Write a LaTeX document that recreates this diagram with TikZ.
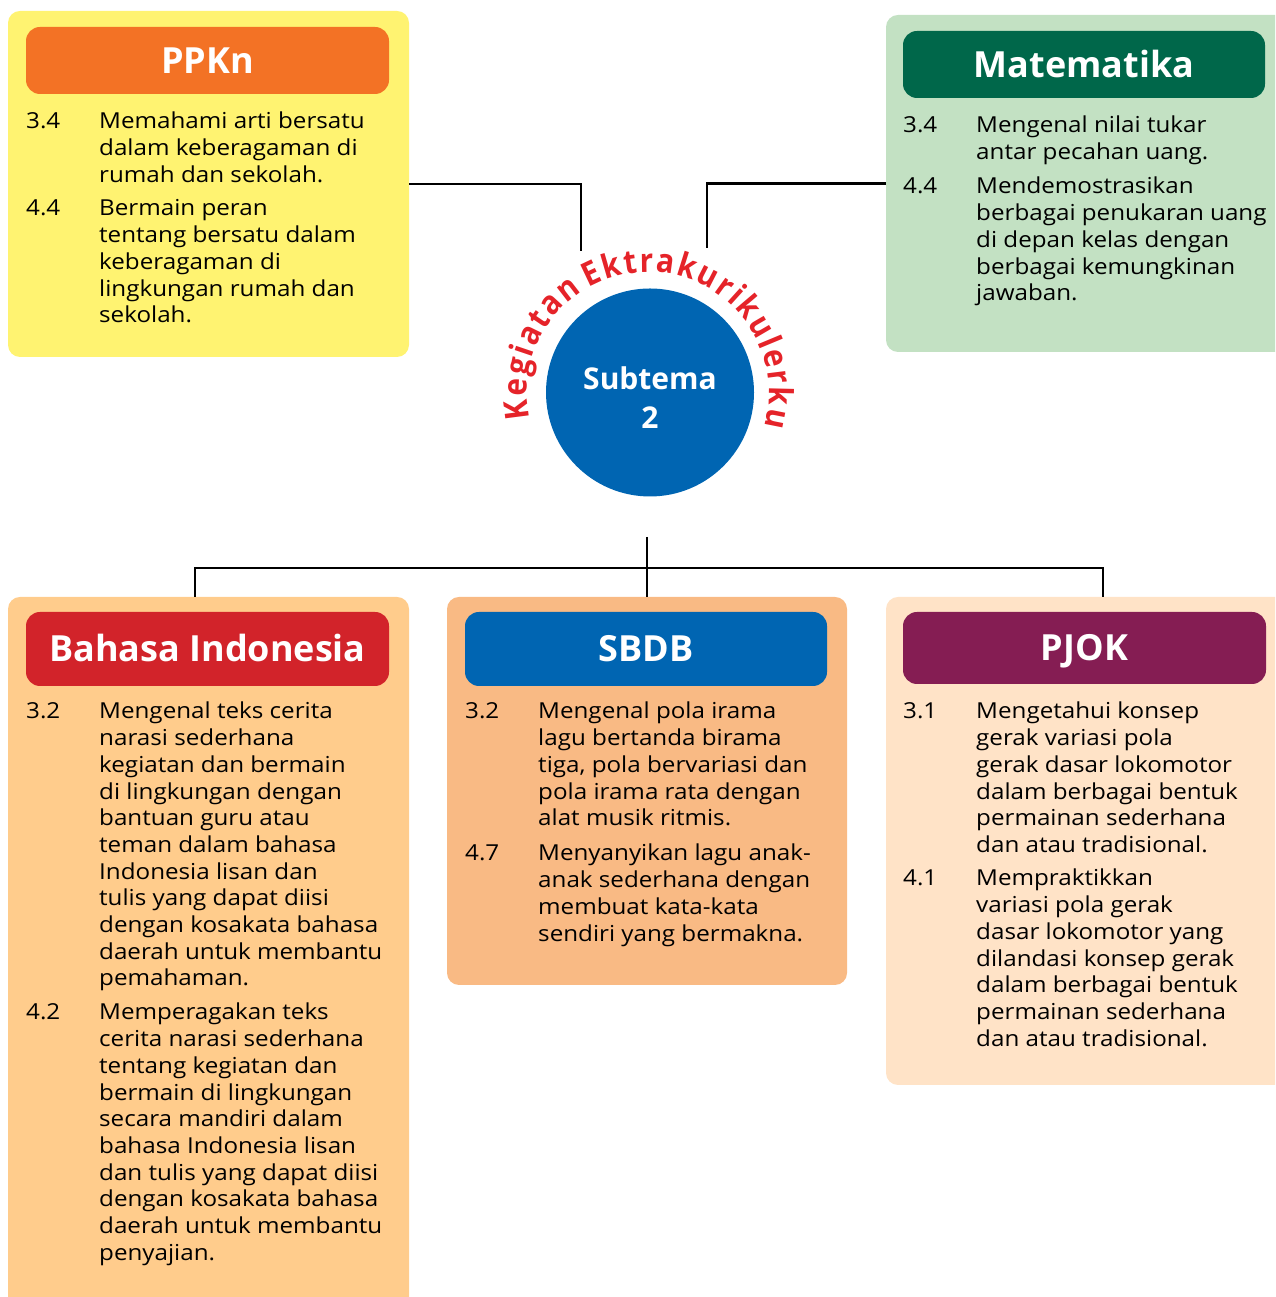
\documentclass[tikz,border=0pt]{standalone}
\usepackage{fontspec}
\setmainfont{Open Sans}
\newfontfamily\bodyfam[FakeStretch=1.1]{Open Sans}
\newfontfamily\arcfam[FakeStretch=0.9]{Open Sans}
\usetikzlibrary{decorations.text}
\definecolor{ppknbg}{HTML}{FFF371}
\definecolor{ppknhd}{HTML}{F37225}
\definecolor{matbg}{HTML}{C3E1C3}
\definecolor{mathd}{HTML}{00674A}
\definecolor{bibg}{HTML}{FFCC8C}
\definecolor{bihd}{HTML}{D2232A}
\definecolor{sbbg}{HTML}{F9BA84}
\definecolor{sbhd}{HTML}{0065B2}
\definecolor{pjbg}{HTML}{FFE3C7}
\definecolor{pjhd}{HTML}{851D53}
\definecolor{hubblue}{HTML}{0065B2}
\definecolor{arcred}{HTML}{E52329}
\newcommand\bodyfont{\bodyfam\fontsize{22}{26.7}\selectfont}
\newcommand\arcfont{\arcfam\fontsize{33}{33}\selectfont\bfseries}
\newcommand\itemlines[1]{\parbox[t]{330pt}{\raggedright #1}}
\tikzset{
  panel/.style={anchor=north west, rounded corners=12pt, inner sep=0pt, outer sep=0pt},
  header/.style={anchor=north west, rounded corners=14pt, inner sep=0pt, outer sep=0pt,
    text=white, font=\fontsize{36}{36}\selectfont\bfseries, text height=26pt, text depth=0pt},
  num/.style={anchor=base west, inner sep=0pt, font=\bodyfont},
  itembox/.style={anchor=base west, inner sep=0pt, font=\bodyfont},
  conn/.style={line width=2.8pt, black},
  hubtext/.style={anchor=base, inner sep=0pt, text=white, font=\fontsize{30}{30}\selectfont\bfseries},
}
\begin{document}
\begin{tikzpicture}[x=1pt, y=1pt]
\useasboundingbox (0,0) rectangle (1275,1297);
\clip (0,0) rectangle (1275,1297);

% panels
\node[panel, fill=ppknbg, minimum width=401, minimum height=346] (ppkn) at (8,1286) {};
\node[panel, fill=matbg, minimum width=420, minimum height=337] (mat) at (886,1282) {};
\node[panel, fill=bibg, minimum width=401, minimum height=740] (bi) at (8,700) {};
\node[panel, fill=sbbg, minimum width=400, minimum height=388] (sb) at (447,700) {};
\node[panel, fill=pjbg, minimum width=420, minimum height=488] (pj) at (886,700) {};

% headers
\node[header, fill=ppknhd, minimum width=363, minimum height=67] (ppknH) at (26,1270) {PPKn};
\node[header, fill=mathd, minimum width=362, minimum height=67] (matH) at (903,1266) {Matematika};
\node[header, fill=bihd, minimum width=363, minimum height=74] (biH) at (26,685) {Bahasa Indonesia};
\node[header, fill=sbhd, minimum width=362, minimum height=74] (sbH) at (465,685) {SBDB};
\node[header, fill=pjhd, minimum width=363, minimum height=72] (pjH) at (903,685) {PJOK};

% connectors
\coordinate (ppknEnd) at (581,1046);
\coordinate (matEnd) at (707,1049);
\draw[conn] (ppkn.east) -| (ppknEnd);
\draw[conn] (mat.west) -| (matEnd);
\coordinate (hubTop) at (647,760);
\coordinate (hub) at (647,729);
\coordinate (dropL) at (195,700);
\coordinate (dropR) at (1103,700);
\draw[conn] (hubTop) -- (sb.north);
\draw[conn] (dropL) |- (hub) -| (dropR);

% hub circle
\node[circle, fill=hubblue, minimum size=208, inner sep=0pt] (sub) at (650,904.5) {};
\node[hubtext] (subA) at (650,907) {Subtema};
\node[hubtext] (subB) at (650,868) {2};
\path[decorate, decoration={text along path,
  text={|\arcfont|K{\kern2pt}e{\kern2pt}g{\kern2pt}i{\kern2pt}a{\kern2pt}t{\kern2pt}a{\kern2pt}n E{\kern2pt}k{\kern2pt}t{\kern2pt}r{\kern2pt}a{\kern2pt}k{\kern2pt}u{\kern2pt}r{\kern2pt}i{\kern2pt}k{\kern2pt}u{\kern2pt}l{\kern2pt}e{\kern2pt}r{\kern2pt}k{\kern2pt}u},
  text align=center, text color=arcred}]
  (648,904) ++(196:121) arc[start angle=196, end angle=-20, radius=121];

% PPKn items
\node[num] (p1n) at (26,1168) {3.4};
\node[itembox] (p1t) at (99,1168) {\itemlines{Memahami arti bersatu\\ dalam keberagaman di\\ rumah dan sekolah.}};
\node[num] (p2n) at (26,1081) {4.4};
\node[itembox] (p2t) at (99,1081) {\itemlines{Bermain peran\\ tentang bersatu dalam\\ keberagaman di\\ lingkungan rumah dan\\ sekolah.}};

% Matematika items
\node[num] (m1n) at (903,1164) {3.4};
\node[itembox] (m1t) at (976,1164) {\itemlines{Mengenal nilai tukar\\ antar pecahan uang.}};
\node[num] (m2n) at (903,1103) {4.4};
\node[itembox] (m2t) at (976,1103) {\itemlines{Mendemostrasikan\\ berbagai penukaran uang\\ di depan kelas dengan\\ berbagai kemungkinan\\ jawaban.}};

% Bahasa Indonesia items
\node[num] (b1n) at (26,578) {3.2};
\node[itembox] (b1t) at (99,578) {\itemlines{Mengenal teks cerita\\ narasi sederhana\\ kegiatan dan bermain\\ di lingkungan dengan\\ bantuan guru atau\\ teman dalam bahasa\\ Indonesia lisan dan\\ tulis yang dapat diisi\\ dengan kosakata bahasa\\ daerah untuk membantu\\ pemahaman.}};
\node[num] (b2n) at (26,277) {4.2};
\node[itembox] (b2t) at (99,277) {\itemlines{Memperagakan teks\\ cerita narasi sederhana\\ tentang kegiatan dan\\ bermain di lingkungan\\ secara mandiri dalam\\ bahasa Indonesia lisan\\ dan tulis yang dapat diisi\\ dengan kosakata bahasa\\ daerah untuk membantu\\ penyajian.}};

% SBDB items
\node[num] (s1n) at (465,578) {3.2};
\node[itembox] (s1t) at (538,578) {\itemlines{Mengenal pola irama\\ lagu bertanda birama\\ tiga, pola bervariasi dan\\ pola irama rata dengan\\ alat musik ritmis.}};
\node[num] (s2n) at (465,436) {4.7};
\node[itembox] (s2t) at (538,436) {\itemlines{Menyanyikan lagu anak-\\ anak sederhana dengan\\ membuat kata-kata\\ sendiri yang bermakna.}};

% PJOK items
\node[num] (j1n) at (903,578) {3.1};
\node[itembox] (j1t) at (976,578) {\itemlines{Mengetahui konsep\\ gerak variasi pola\\ gerak dasar lokomotor\\ dalam berbagai bentuk\\ permainan sederhana\\ dan atau tradisional.}};
\node[num] (j2n) at (903,411) {4.1};
\node[itembox] (j2t) at (976,411) {\itemlines{Mempraktikkan\\ variasi pola gerak\\ dasar lokomotor yang\\ dilandasi konsep gerak\\ dalam berbagai bentuk\\ permainan sederhana\\ dan atau tradisional.}};
\end{tikzpicture}
\end{document}
